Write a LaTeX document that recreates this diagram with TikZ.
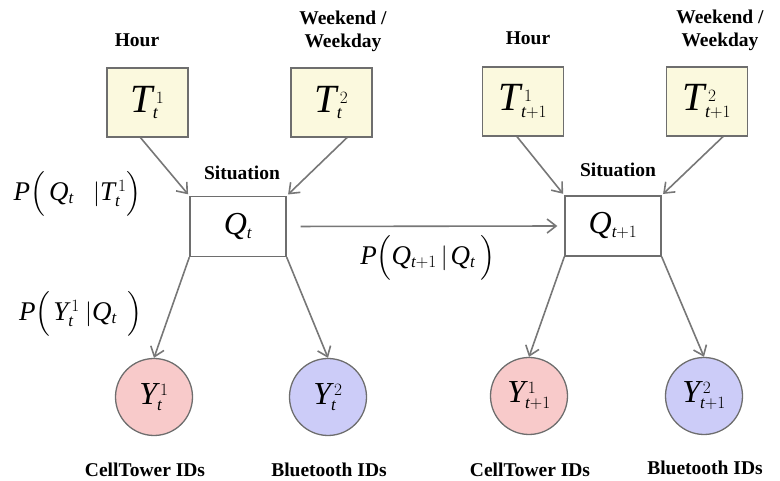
\documentclass[tikz,border=0pt]{standalone}
\usepackage{amsmath}
\usepackage{fontspec}
\setmainfont{Liberation Serif}
\usetikzlibrary{arrows.meta}

% Tamanos de formulas
\DeclareMathSizes{40}{40}{18}{12}
\DeclareMathSizes{32}{32}{17}{12}
\DeclareMathSizes{27}{27}{17}{11}

\definecolor{bordegris}{HTML}{6E6E6E}
\definecolor{flechagris}{HTML}{777777}
\definecolor{amarillo}{HTML}{FBF9DE}
\definecolor{rosa}{HTML}{F8CACA}
\definecolor{lila}{HTML}{CCCCF8}

\newcommand{\mv}[1]{\mathit{#1}}
\newcommand{\indice}[1]{\mkern3mu#1}

\begin{document}
\begin{tikzpicture}[x=1pt, y=1pt,
    tbox/.style={draw=bordegris, line width=1.3pt, fill=amarillo, minimum width=81pt, minimum height=69pt, inner sep=0pt, font=\fontsize{40}{40}\selectfont},
    qbox/.style={draw=bordegris, line width=1.3pt, fill=white, minimum width=96pt, minimum height=60pt, inner sep=0pt, font=\fontsize{32}{32}\selectfont},
    obs/.style={circle, draw=bordegris, line width=1.3pt, minimum size=77pt, inner sep=0pt, font=\fontsize{32}{32}\selectfont},
    etiq/.style={font=\bfseries\fontsize{19.5}{23}\selectfont, align=center},
    prob/.style={font=\fontsize{27}{27}\selectfont},
    arista/.style={draw=flechagris, line width=1.6pt, -{Straight Barb[length=9pt,width=14pt]}}]
        \useasboundingbox (0,0) rectangle (780,481);

        % Paso t
        \node[tbox] (T1) at (147.5,378.5) {$\mv{T}^{\indice{1}}_{\mv{t}}$};
        \node[tbox] (T2) at (331.5,378.5) {$\mv{T}^{\indice{2}}_{\mv{t}}$};
        \node[qbox] (Q) at (238,254.5) {$\mv{Q}_{\mv{t}}$};
        \node[obs, fill=rosa] (Y1) at (154,84) {$\mv{Y}^{\indice{1}}_{\mv{t}}$};
        \node[obs, fill=lila] (Y2) at (328,84) {$\mv{Y}^{\indice{2}}_{\mv{t}}$};

        % Paso t+1
        \node[tbox] (T1n) at (523,379.5) {$\mv{T}^{\indice{1}}_{\mv{t}+1}$};
        \node[tbox] (T2n) at (707,379.5) {$\mv{T}^{\indice{2}}_{\mv{t}+1}$};
        \node[qbox] (Qn) at (613,255) {$\mv{Q}_{\mv{t}+1}$};
        \node[obs, fill=rosa] (Y1n) at (529,85) {$\mv{Y}^{\indice{1}}_{\mv{t}+1}$};
        \node[obs, fill=lila] (Y2n) at (704,85) {$\mv{Y}^{\indice{2}}_{\mv{t}+1}$};

        % Etiquetas
        \node[etiq] (hora) at (137,441) {Hour};
        \node[etiq] (semana) at (343,450) {Weekend /\\Weekday};
        \node[etiq] (sit) at (242,308) {Situation};
        \node[etiq] (cel) at (145,11) {CellTower IDs};
        \node[etiq] (blue) at (329,11) {Bluetooth IDs};
        \node[etiq] (horan) at (528,443) {Hour};
        \node[etiq] (semanan) at (720,451) {Weekend /\\Weekday};
        \node[etiq] (sitn) at (618,311) {Situation};
        \node[etiq] (celn) at (530,11) {CellTower IDs};
        \node[etiq] (bluen) at (705,13) {Bluetooth IDs};

        % Probabilidades
        \node[prob] (pqt) at (77.5,287) {$\mv{P}\Bigl(\mkern3mu\mv{Q}_{\mv{t}}\mkern14mu|\mv{T}^{\indice{1}}_{\mv{t}}\Bigr)$};
        \node[prob] (pyq) at (81,167) {$\mv{P}\Bigl(\mkern2mu\mv{Y}^{\indice{1}}_{\mv{t}}\mkern4mu|\mv{Q}_{\mv{t}}\mkern8mu\Bigr)$};
        \node[prob] (pqq) at (428,223) {$\mv{P}\Bigl(\mv{Q}_{\mv{t}+1}\mkern3mu|\mkern2mu\mv{Q}_{\mv{t}}\mkern4mu\Bigr)$};

        % Aristas
        \draw[arista, shorten >=2pt] ([xshift=-7pt]T1.south) -- (Q.north west);
        \draw[arista, shorten >=2pt] ([xshift=15.5pt]T2.south) -- (Q.north east);
        \draw[arista] (Q.south west) -- (Y1.north);
        \draw[arista] (Q.south east) -- (Y2.north);
        \draw[arista, shorten >=2pt] ([xshift=-6pt]T1n.south) -- (Qn.north west);
        \draw[arista, shorten >=2pt] ([xshift=16pt]T2n.south) -- (Qn.north east);
        \draw[arista] (Qn.south west) -- (Y1n.north);
        \draw[arista] (Qn.south east) -- (Y2n.north);
        \draw[arista, shorten <=14pt, shorten >=7pt] (Q.east) -- (Qn.west);
    \end{tikzpicture}
\end{document}
